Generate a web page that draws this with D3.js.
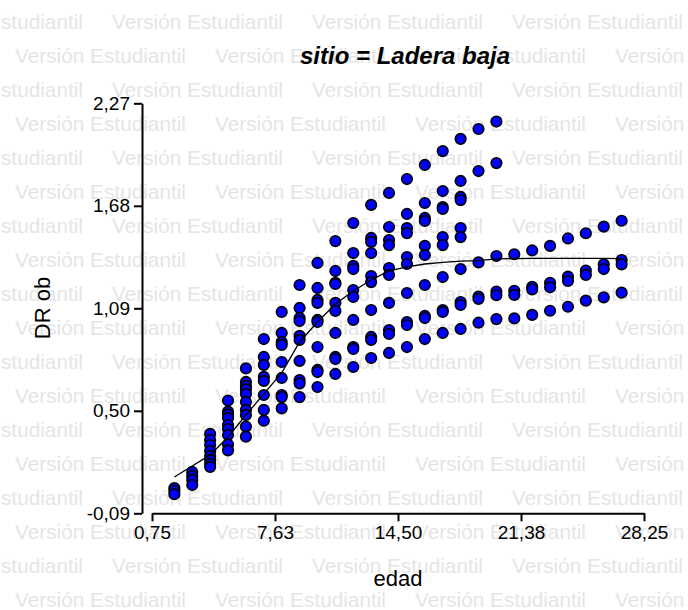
<!DOCTYPE html>
<html>
<head>
<meta charset="utf-8">
<script src="https://cdn.jsdelivr.net/npm/d3@7"></script>
<style>
  html, body { margin: 0; padding: 0; background: #ffffff; }
  svg { display: block; }
</style>
</head>
<body>
<svg id="chart" width="688" height="610"></svg>
<script>
// Edad (años) de cada medición
const ages = [2, 3, 4, 5, 6, 7, 8, 9, 10, 11, 12, 13, 14, 15, 16, 17, 18, 19, 20, 21, 22, 23, 24, 25, 26, 27];

// DR observado en cada edad
const dr02 = [0.055, 0.040, 0.020];
const dr03 = [0.148, 0.125, 0.102, 0.073];
const dr04 = [0.367, 0.332, 0.303, 0.269, 0.240, 0.217, 0.194, 0.177];
const dr05 = [0.559, 0.495, 0.479, 0.459, 0.418, 0.395, 0.361, 0.306, 0.272];
const dr06 = [0.744, 0.666, 0.643, 0.624, 0.597, 0.551, 0.505, 0.476, 0.409, 0.351];
const dr07 = [0.913, 0.810, 0.764, 0.695, 0.672, 0.591, 0.505, 0.443];
const dr08 = [1.069, 0.948, 0.896, 0.879, 0.781, 0.689, 0.591, 0.579, 0.514];
const dr09 = [1.224, 1.092, 1.034, 1.017, 0.931, 0.908, 0.787, 0.677, 0.658, 0.579];
const dr10 = [1.351, 1.207, 1.138, 1.121, 1.023, 1.011, 0.867, 0.735, 0.723, 0.637];
const dr11 = [1.477, 1.305, 1.236, 1.230, 1.121, 1.075, 0.948, 0.810, 0.798, 0.712];
const dr12 = [1.581, 1.408, 1.334, 1.316, 1.195, 1.155, 1.023, 0.867, 0.856, 0.752];
const dr13 = [1.685, 1.495, 1.472, 1.408, 1.276, 1.241, 1.080, 0.925, 0.908, 0.804];
const dr14 = [1.754, 1.558, 1.483, 1.454, 1.322, 1.282, 1.121, 0.965, 0.942, 0.833];
const dr15 = [1.834, 1.633, 1.552, 1.523, 1.385, 1.345, 1.178, 1.011, 0.994, 0.867];
const dr16 = [1.915, 1.696, 1.610, 1.593, 1.449, 1.397, 1.224, 1.046, 1.034, 0.913];
const dr17 = [1.995, 1.765, 1.673, 1.662, 1.500, 1.454, 1.270, 1.080, 1.069, 0.948];
const dr18 = [2.065, 1.823, 1.731, 1.713, 1.552, 1.500, 1.316, 1.126, 1.109, 0.971];
const dr19 = [2.122, 1.880, 1.354, 1.158, 1.144, 1.007];
const dr20 = [2.165, 1.926, 1.391, 1.186, 1.165, 1.028];
const dr21 = [1.401, 1.191, 1.167, 1.032];
const dr22 = [1.423, 1.214, 1.199, 1.052];
const dr23 = [1.449, 1.237, 1.211, 1.076];
const dr24 = [1.492, 1.272, 1.247, 1.099];
const dr25 = [1.522, 1.307, 1.282, 1.134];
const dr26 = [1.560, 1.343, 1.316, 1.153];
const dr27 = [1.594, 1.368, 1.343, 1.180];
const drByAge = [dr02, dr03, dr04, dr05, dr06, dr07, dr08, dr09, dr10, dr11, dr12, dr13, dr14,
                 dr15, dr16, dr17, dr18, dr19, dr20, dr21, dr22, dr23, dr24, dr25, dr26, dr27];

// DR ajustado por el modelo en cada edad
const drFitted = [0.119, 0.182, 0.246, 0.349, 0.476, 0.597, 0.718, 0.896, 1.011, 1.115, 1.190, 1.253, 1.305,
                  1.328, 1.345, 1.354, 1.362, 1.365, 1.374, 1.376, 1.377, 1.377, 1.377, 1.377, 1.377, 1.376];

// Marcas de los ejes
const xTicks = [0.75, 7.625, 14.5, 21.375, 28.25];
const xTickLabels = ["0,75", "7,63", "14,50", "21,38", "28,25"];
const yTicks = [-0.09, 0.50, 1.09, 1.68, 2.27];
const yTickLabels = ["-0,09", "0,50", "1,09", "1,68", "2,27"];

const titleText = "sitio = Ladera baja";
const xTitle = "edad";
const yTitle = "DR ob";
const watermark = "Versión Estudiantil";

const svg = d3.select("#chart");
const W = 688, H = 610;

const x = d3.scaleLinear().domain([0.75, 28.25]).range([152, 644]);
const y = d3.scaleLinear().domain([-0.09, 2.27]).range([513.3, 103.3]);

// Marca de agua de fondo
const wm = svg.append("g").attr("class", "watermark");
for (let k = 0; k < 18; k++) {
  const cy = 21.5 + 34 * k;
  const start = (k % 2 === 0) ? -88 : 15;
  for (let sx = start; sx < W; sx += 200) {
    wm.append("text")
      .attr("x", sx)
      .attr("y", cy)
      .attr("dominant-baseline", "central")
      .attr("textLength", 171)
      .attr("lengthAdjust", "spacingAndGlyphs")
      .style("font-family", "'Liberation Sans', Arial, sans-serif")
      .style("font-size", "21px")
      .style("fill", "#e5e5e5")
      .text(watermark);
  }
}

const font = "'Liberation Sans', Arial, Helvetica, sans-serif";

// Eje Y
const yAxis = d3.axisLeft(y)
  .tickValues(yTicks)
  .tickFormat((d, i) => yTickLabels[i])
  .tickSizeOuter(0)
  .tickSizeInner(8)
  .tickPadding(4);
const gy = svg.append("g").attr("transform", "translate(142,0)").call(yAxis);

// Eje X
const xAxis = d3.axisBottom(x)
  .tickValues(xTicks)
  .tickFormat((d, i) => xTickLabels[i])
  .tickSizeOuter(0)
  .tickSizeInner(8)
  .tickPadding(4);
const gx = svg.append("g").attr("transform", "translate(0,513.3)").call(xAxis);

[gx, gy].forEach(g => {
  g.select(".domain").attr("stroke", "#000").attr("stroke-width", 2);
  g.selectAll(".tick line").attr("stroke", "#000").attr("stroke-width", 2);
  g.selectAll(".tick text")
    .attr("fill", "#000")
    .style("font-family", font)
    .style("font-size", "19px");
});

// Puntos observados
const points = [];
ages.forEach((a, i) => drByAge[i].forEach(v => points.push({ edad: a, dr: v })));
svg.append("g")
  .selectAll("circle")
  .data(points)
  .join("circle")
  .attr("cx", d => x(d.edad))
  .attr("cy", d => y(d.dr))
  .attr("r", 5.3)
  .attr("fill", "#0000ff")
  .attr("stroke", "#000")
  .attr("stroke-width", 1.6);

// Curva ajustada
const line = d3.line().x(d => x(d[0])).y(d => y(d[1]));
svg.append("path")
  .datum(ages.map((a, i) => [a, drFitted[i]]))
  .attr("d", line)
  .attr("fill", "none")
  .attr("stroke", "#000")
  .attr("stroke-width", 1.3);

// Título y nombres de ejes
svg.append("text")
  .attr("x", 405)
  .attr("y", 55)
  .attr("text-anchor", "middle")
  .attr("dominant-baseline", "central")
  .style("font-family", font)
  .style("font-size", "24px")
  .style("font-weight", "bold")
  .style("font-style", "italic")
  .text(titleText);

svg.append("text")
  .attr("x", 398)
  .attr("y", 578)
  .attr("text-anchor", "middle")
  .attr("dominant-baseline", "central")
  .style("font-family", font)
  .style("font-size", "22px")
  .text(xTitle);

svg.append("text")
  .attr("transform", "translate(42,308) rotate(-90)")
  .attr("text-anchor", "middle")
  .attr("dominant-baseline", "central")
  .style("font-family", font)
  .style("font-size", "22px")
  .text(yTitle);
</script>
</body>
</html>
